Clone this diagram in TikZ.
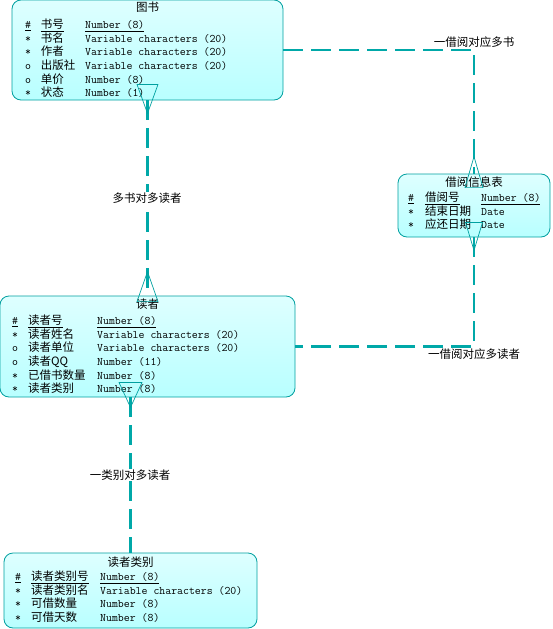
\documentclass[tikz,border=0pt]{standalone}
\usepackage{fontspec}
\usepackage{array}
\setmainfont{Noto Sans CJK SC}
\usetikzlibrary{calc}
\definecolor{boxline}{HTML}{00A0A0}
\definecolor{linkcolor}{HTML}{00A8A8}
\definecolor{boxtop}{HTML}{DEFFFF}
\definecolor{boxbot}{HTML}{B8FFFF}
\newcommand{\attrfont}{\fontsize{11.5}{13.3}\selectfont}
\tikzset{
  entity/.style={draw=boxline,line width=0.8pt,rounded corners=9pt,top color=boxtop,bottom color=boxbot,inner sep=0pt},
  title/.style={font=\attrfont,inner sep=0pt},
  attrs/.style={anchor=base west,inner sep=0pt,font=\attrfont},
  link/.style={draw=linkcolor,line width=2.6pt,dash pattern=on 20pt off 8pt},
  crow/.style={draw=boxline,line width=0.7pt},
  rellabel/.style={font=\fontsize{11.5}{13}\selectfont,inner sep=1pt}
}
\begin{document}
\begin{tikzpicture}[x=1pt,y=-1pt,line join=round]
  \useasboundingbox (0,0) rectangle (552,629);
  % entities
  \node[entity,minimum width=271pt,minimum height=100pt] (book) at (147.5,50) {};
  \node[entity,minimum width=152pt,minimum height=63pt] (borrow) at (474,205.5) {};
  \node[entity,minimum width=295pt,minimum height=101pt] (reader) at (147.5,346.5) {};
  \node[entity,minimum width=253pt,minimum height=75pt] (rtype) at (130.5,590.5) {};
  % titles
  \node[title] (book-title) at (147.5,7) {图书};
  \node[title] (borrow-title) at (474,182) {借阅信息表};
  \node[title] (reader-title) at (147.5,304) {读者};
  \node[title] (rtype-title) at (130.5,562) {读者类别};
  % attributes
  \node[attrs] (book-attr) at (25,28.4) {\begin{tabular}[t]{@{}>{\ttfamily}p{15.7pt}@{}p{44.3pt}@{}>{\ttfamily}l@{}}
    \underline{\#} & \underline{书号} & \underline{Number (8)}\\
    {*} & 书名 & Variable characters (20)\\
    {*} & 作者 & Variable characters (20)\\
    o & 出版社 & Variable characters (20)\\
    o & 单价 & Number (8)\\
    {*} & 状态 & Number (1)
  \end{tabular}};
  \node[attrs] (borrow-attr) at (408,201.4) {\begin{tabular}[t]{@{}>{\ttfamily}p{17pt}@{}p{56pt}@{}>{\ttfamily}l@{}}
    \underline{\#} & \underline{借阅号} & \underline{Number (8)}\\
    {*} & 结束日期 & Date\\
    {*} & 应还日期 & Date
  \end{tabular}};
  \node[attrs] (reader-attr) at (12,324.4) {\begin{tabular}[t]{@{}>{\ttfamily}p{16pt}@{}p{69pt}@{}>{\ttfamily}l@{}}
    \underline{\#} & \underline{读者号} & \underline{Number (8)}\\
    {*} & 读者姓名 & Variable characters (20)\\
    o & 读者单位 & Variable characters (20)\\
    o & 读者QQ & Number (11)\\
    {*} & 已借书数量 & Number (8)\\
    {*} & 读者类别 & Number (8)
  \end{tabular}};
  \node[attrs] (rtype-attr) at (15,580.4) {\begin{tabular}[t]{@{}>{\ttfamily}p{16pt}@{}p{69pt}@{}>{\ttfamily}l@{}}
    \underline{\#} & \underline{读者类别号} & \underline{Number (8)}\\
    {*} & 读者类别名 & Variable characters (20)\\
    {*} & 可借数量 & Number (8)\\
    {*} & 可借天数 & Number (8)
  \end{tabular}};
  % relations
  \draw[link] (book.east) -| (borrow.north);
  \draw[link] (book.south) -- (reader.north);
  \draw[link] (borrow.south) |- (reader.east);
  \draw[link] (reader.south -| rtype.north) -- (rtype.north);
  % crow's feet
  \draw[crow] ($(book.south)+(-10.5,-16)$) -- ($(book.south)+(0,13)$) -- ($(book.south)+(10.5,-16)$) -- cycle;
  \draw[crow] ($(reader.north)+(-10.5,6)$) -- ($(reader.north)+(0,-24)$) -- ($(reader.north)+(10.5,6)$) -- cycle;
  \draw[crow] ($(borrow.north)+(-9,14)$) -- ($(borrow.north)+(0,-17)$) -- ($(borrow.north)+(9,14)$) -- cycle;
  \draw[crow] ($(borrow.south)+(-8.5,-15)$) -- ($(borrow.south)+(0,13)$) -- ($(borrow.south)+(8.5,-15)$) -- cycle;
  \draw[crow] ($(reader.south -| rtype.north)+(-11.5,-15)$) -- ($(reader.south -| rtype.north)+(0,10)$) -- ($(reader.south -| rtype.north)+(11.5,-15)$) -- cycle;
  % labels
  \node[rellabel] (book-borrow) at (474,42) {一借阅对应多书};
  \node[rellabel,fill=white] (book-reader) at (147,198) {多书对多读者};
  \node[rellabel] (borrow-reader) at (474,354) {一借阅对应多读者};
  \node[rellabel,fill=white] (rtype-reader) at (130,475) {一类别对多读者};
\end{tikzpicture}
\end{document}
